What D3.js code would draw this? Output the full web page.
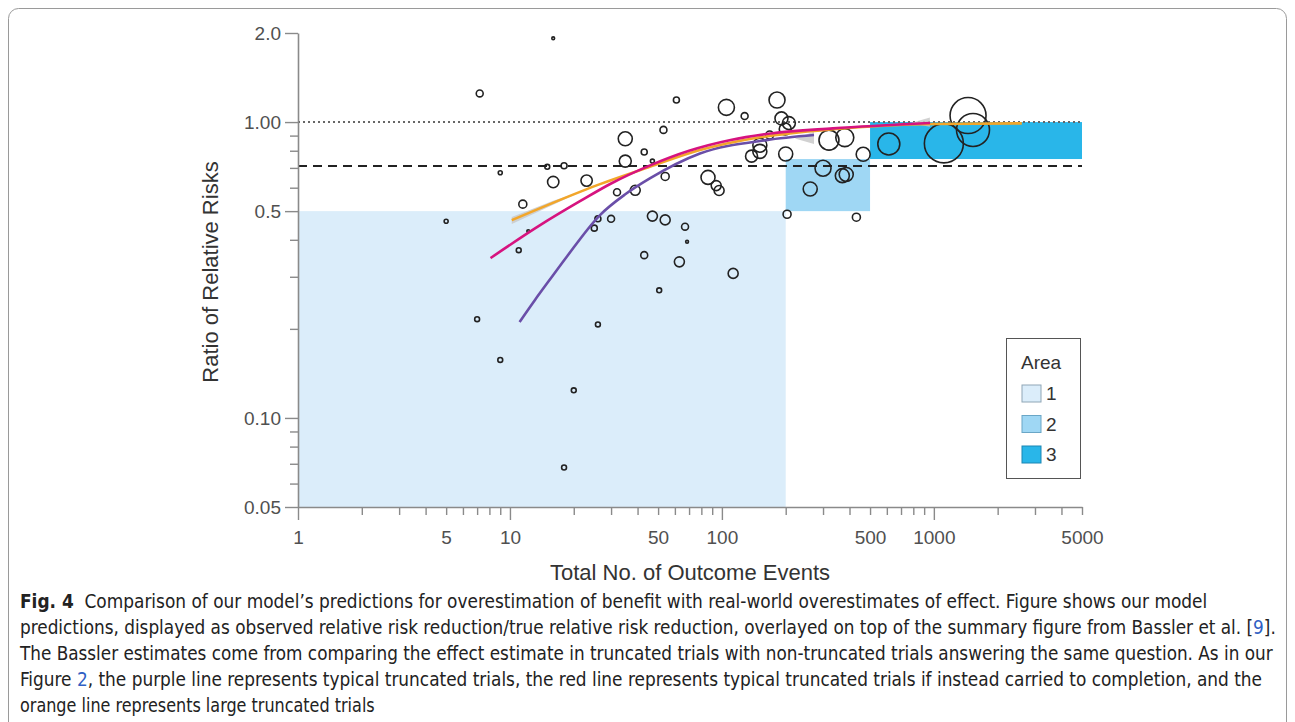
<!DOCTYPE html>
<html>
<head>
<meta charset="utf-8">
<script src="https://cdn.jsdelivr.net/npm/d3@7/dist/d3.min.js"></script>
<style>
  html, body { margin: 0; padding: 0; background: #fff; }
  svg { display: block; }
</style>
</head>
<body>
<svg id="chart" width="1295" height="722"></svg>
<script>
// ---- Bassler et al. trial estimates: outcome events vs ratio of relative risks ----
const trialEvents = [16, 7.2, 9.0, 5.0, 15, 18, 16, 23, 11.5, 11, 12.2, 25, 26, 7.0, 9.0, 26, 20, 18,
  50.6, 113, 61, 105, 128, 53, 35, 43, 47, 35, 54, 32, 39, 86, 94, 97, 30, 47, 54, 67, 68.5, 43, 63,
  182, 191, 207, 199, 168, 151, 151, 138, 200, 320, 380, 464, 300, 370, 386, 261, 203, 431, 613, 1115, 1450, 1530];
const trialRatio = [1.92, 1.25, 0.674, 0.462, 0.706, 0.712, 0.627, 0.634, 0.528, 0.369, 0.428, 0.438, 0.471, 0.2156, 0.157, 0.207, 0.124, 0.068,
  0.27, 0.308, 1.187, 1.121, 1.048, 0.941, 0.878, 0.792, 0.738, 0.738, 0.655, 0.579, 0.588, 0.65, 0.61, 0.587, 0.471, 0.481, 0.467, 0.443, 0.394, 0.355, 0.337,
  1.187, 1.029, 0.992, 0.947, 0.904, 0.835, 0.796, 0.767, 0.78, 0.869, 0.886, 0.778, 0.698, 0.659, 0.665, 0.594, 0.488, 0.477, 0.843, 0.847, 1.052, 0.94];
// Relative trial weights (bubble area)
const trialWeight = [2, 12, 4, 4, 6, 9, 32, 32, 16, 6, 2, 9, 9, 6, 6, 6, 6, 6,
  6, 25, 9, 64, 12, 12, 49, 9, 4, 36, 16, 12, 25, 49, 25, 25, 12, 25, 25, 12, 2, 12, 25,
  64, 42, 42, 36, 16, 49, 49, 36, 49, 100, 81, 49, 64, 49, 49, 49, 16, 16, 121, 380, 324, 272];

// ---- Model predictions ----
const purpleEvents = [11.1, 13.1, 15.4, 18.5, 26.6, 35, 45.7, 78.8, 162, 272];
const purpleRatio  = [0.211, 0.25, 0.293, 0.35, 0.485, 0.57, 0.645, 0.783, 0.869, 0.904];
const redEvents    = [8.1, 14, 21.4, 30, 45, 70, 110, 170, 334, 960];
const redRatio     = [0.347, 0.45, 0.54, 0.62, 0.71, 0.80, 0.87, 0.915, 0.952, 0.993];
const orangeEvents = [10.2, 21.4, 26.6, 45.7, 78.8, 151, 334, 1000, 2600];
const orangeRatio  = [0.466, 0.581, 0.617, 0.706, 0.804, 0.888, 0.946, 0.985, 0.99];

// Uncertainty bands (events, lower, upper)
const purpleBandEvents = [221, 272];
const purpleBandLow    = [0.88, 0.843];
const purpleBandHigh   = [0.88, 0.927];
const redBandEvents    = [771, 958];
const redBandLow       = [0.99, 0.964];
const redBandHigh      = [0.99, 1.037];
const orangeBandEvents = [10.2, 16, 22];
const orangeBandLow    = [0.452, 0.525, 0.585];
const orangeBandHigh   = [0.478, 0.542, 0.585];

// ---- Shaded areas: [events from, events to, ratio from, ratio to] ----
const areaNames  = ["1", "2", "3"];
const areaEvents = [[1, 200], [200, 500], [500, 5000]];
const areaRatio  = [[0.05, 0.5], [0.5, 0.75], [0.75, 1.0]];

// ---- Reference lines ----
const nullRatio = 1.0;
const dashedRatio = 0.71;

// ---- Ticks ----
const xMajorTicks = [1, 10, 100, 1000];
const xMinorTicks = [2,3,4,5,6,7,8,9,20,30,40,50,60,70,80,90,200,300,400,500,600,700,800,900,2000,3000,4000,5000];
const xTickLabels = [1, 5, 10, 50, 100, 500, 1000, 5000];
const yMajorTicks = [2, 1, 0.5, 0.1, 0.05];
const yMajorLabels = ["2.0", "1.00", "0.5", "0.10", "0.05"];
const yMinorTicks = [0.9, 0.8, 0.7, 0.6, 0.4, 0.3, 0.2, 0.09, 0.08, 0.07, 0.06];

const captionLines = [
  [{t: "Fig. 4", b: true}, {t: "  Comparison of our model’s predictions for overestimation of benefit with real-world overestimates of effect. Figure shows our model"}],
  [{t: "predictions, displayed as observed relative risk reduction/true relative risk reduction, overlayed on top of the summary figure from Bassler et al. ["}, {t: "9", link: true}, {t: "]."}],
  [{t: "The Bassler estimates come from comparing the effect estimate in truncated trials with non-truncated trials answering the same question. As in our"}],
  [{t: "Figure "}, {t: "2", link: true}, {t: ", the purple line represents typical truncated trials, the red line represents typical truncated trials if instead carried to completion, and the"}],
  [{t: "orange line represents large truncated trials"}]
];
const captionWidths = [1188, 1257, 1253, 1243, 355];

// ---------------------------------------------------------------
const svg = d3.select("#chart");
const FONT = "'Liberation Sans', Arial, Helvetica, sans-serif";

// frame
svg.append("rect")
  .attr("x", 8.5).attr("y", 8.5).attr("width", 1278).attr("height", 800)
  .attr("rx", 10).attr("fill", "none").attr("stroke", "#9a9a9a").attr("stroke-width", 1);

const x = d3.scaleLog().domain([1, 5000]).range([298, 1082]);
const y = d3.scaleLog().domain([0.05, 2]).range([507, 33]);

const areaColors = ["#dbedfa", "#9fd7f4", "#29b6e9"];
const areaStroke = ["#8fa6b6", "#6aa6c6", "#1b86b3"];

// shaded areas
svg.append("g").selectAll("rect")
  .data(areaNames.map((n, i) => ({n, ex: areaEvents[i], ry: areaRatio[i], c: areaColors[i]})))
  .join("rect")
  .attr("x", d => x(d.ex[0]))
  .attr("width", d => x(d.ex[1]) - x(d.ex[0]))
  .attr("y", d => y(d.ry[1]))
  .attr("height", d => y(d.ry[0]) - y(d.ry[1]))
  .attr("fill", d => d.c);

// reference lines
svg.append("line")
  .attr("x1", x(1)).attr("x2", x(5000))
  .attr("y1", y(nullRatio)).attr("y2", y(nullRatio))
  .attr("stroke", "#666").attr("stroke-width", 2).attr("stroke-dasharray", "2,3");
svg.append("line")
  .attr("x1", x(1)).attr("x2", x(5000))
  .attr("y1", y(dashedRatio)).attr("y2", y(dashedRatio))
  .attr("stroke", "#222").attr("stroke-width", 2).attr("stroke-dasharray", "9,6");

// axes
const axisColor = "#8a8a8a";
const labelColor = "#505050";

const xAxis = svg.append("g").attr("transform", `translate(0,${y(0.05)})`)
  .call(d3.axisBottom(x)
    .tickValues(xMajorTicks.concat(xMinorTicks))
    .tickSizeInner(8).tickSizeOuter(0)
    .tickFormat(d => xTickLabels.includes(d) ? String(d) : ""));
xAxis.selectAll(".tick line").attr("y2", d => xMajorTicks.includes(d) ? 13 : 8);
xAxis.selectAll(".tick text").attr("y", 24).attr("font-size", 19).attr("font-family", FONT).attr("fill", labelColor);

const yAxis = svg.append("g").attr("transform", `translate(${x(1)},0)`)
  .call(d3.axisLeft(y)
    .tickValues(yMajorTicks.concat(yMinorTicks))
    .tickSizeInner(8).tickSizeOuter(0)
    .tickFormat(d => { const i = yMajorTicks.indexOf(d); return i >= 0 ? yMajorLabels[i] : ""; }));
yAxis.selectAll(".tick line").attr("x2", d => yMajorTicks.includes(d) ? -13 : -8);
yAxis.selectAll(".tick text").attr("x", -17).attr("font-size", 19).attr("font-family", FONT).attr("fill", labelColor);

[xAxis, yAxis].forEach(g => {
  g.select(".domain").attr("stroke", axisColor).attr("stroke-width", 1.6);
  g.selectAll(".tick line").attr("stroke", axisColor).attr("stroke-width", 1.4);
});

// axis titles
svg.append("text")
  .attr("x", 690).attr("y", 580).attr("text-anchor", "middle")
  .attr("font-family", FONT).attr("font-size", 22).attr("fill", "#333")
  .text("Total No. of Outcome Events");
svg.append("text")
  .attr("transform", "translate(218,272) rotate(-90)").attr("text-anchor", "middle")
  .attr("font-family", FONT).attr("font-size", 22).attr("fill", "#333")
  .text("Ratio of Relative Risks");

// trial bubbles
const r = d3.scaleSqrt().domain([0, 400]).range([0, 20]);
svg.append("g").selectAll("circle")
  .data(trialEvents.map((e, i) => ({e, v: trialRatio[i], w: trialWeight[i]})))
  .join("circle")
  .attr("cx", d => x(d.e)).attr("cy", d => y(d.v)).attr("r", d => r(d.w))
  .attr("fill", "none").attr("stroke", "#222").attr("stroke-width", 1.6);

// uncertainty bands
const band = d3.area().x(d => x(d.e)).y0(d => y(d.lo)).y1(d => y(d.hi));
function bandData(ev, lo, hi) { return ev.map((e, i) => ({e, lo: lo[i], hi: hi[i]})); }
[[purpleBandEvents, purpleBandLow, purpleBandHigh],
 [redBandEvents, redBandLow, redBandHigh],
 [orangeBandEvents, orangeBandLow, orangeBandHigh]].forEach(b => {
  svg.append("path").datum(bandData(...b)).attr("d", band)
    .attr("fill", "#c9c9c9").attr("opacity", 0.85);
});

// prediction curves
const line = d3.line().x(d => x(d.e)).y(d => y(d.v)).curve(d3.curveMonotoneX);
function pts(ev, vals) { return ev.map((e, i) => ({e, v: vals[i]})); }
[[purpleEvents, purpleRatio, "#6a4ea8"],
 [orangeEvents, orangeRatio, "#f2a62a"],
 [redEvents, redRatio, "#d6137f"]].forEach(([ev, vals, c]) => {
  svg.append("path").datum(pts(ev, vals)).attr("d", line)
    .attr("fill", "none").attr("stroke", c).attr("stroke-width", 2.6);
});

// legend
const lg = svg.append("g");
lg.append("rect").attr("x", 1006.5).attr("y", 338.5).attr("width", 74).attr("height", 140)
  .attr("fill", "#fff").attr("stroke", "#555").attr("stroke-width", 1);
lg.append("text").attr("x", 1021).attr("y", 369)
  .attr("font-family", FONT).attr("font-size", 19).attr("fill", "#333").text("Area");
areaNames.forEach((n, i) => {
  const yy = 385 + i * 30.5;
  lg.append("rect").attr("x", 1022).attr("y", yy).attr("width", 19).attr("height", 17)
    .attr("fill", areaColors[i]).attr("stroke", areaStroke[i]).attr("stroke-width", 1);
  lg.append("text").attr("x", 1046).attr("y", yy + 15)
    .attr("font-family", FONT).attr("font-size", 19).attr("fill", "#333").text(n);
});

// caption: each line set in a narrow face, then scaled horizontally to its column width
const capFont = "'Liberation Sans Narrow', 'DejaVu Sans Condensed', 'Liberation Sans', sans-serif";
captionLines.forEach((parts, i) => {
  const g = svg.append("g");
  const t = g.append("text")
    .attr("x", 0).attr("y", 0)
    .attr("font-family", capFont).attr("font-size", 19).attr("fill", "#222")
    .attr("xml:space", "preserve");
  parts.forEach(p => {
    t.append("tspan").text(p.t)
      .attr("font-weight", p.b ? "bold" : null)
      .attr("fill", p.link ? "#2f5fc4" : null);
  });
  const natural = t.node().getComputedTextLength() || captionWidths[i];
  const k = captionWidths[i] / natural;
  g.attr("transform", `translate(20,${608 + i * 26}) scale(${k},1)`);
});
</script>
</body>
</html>
